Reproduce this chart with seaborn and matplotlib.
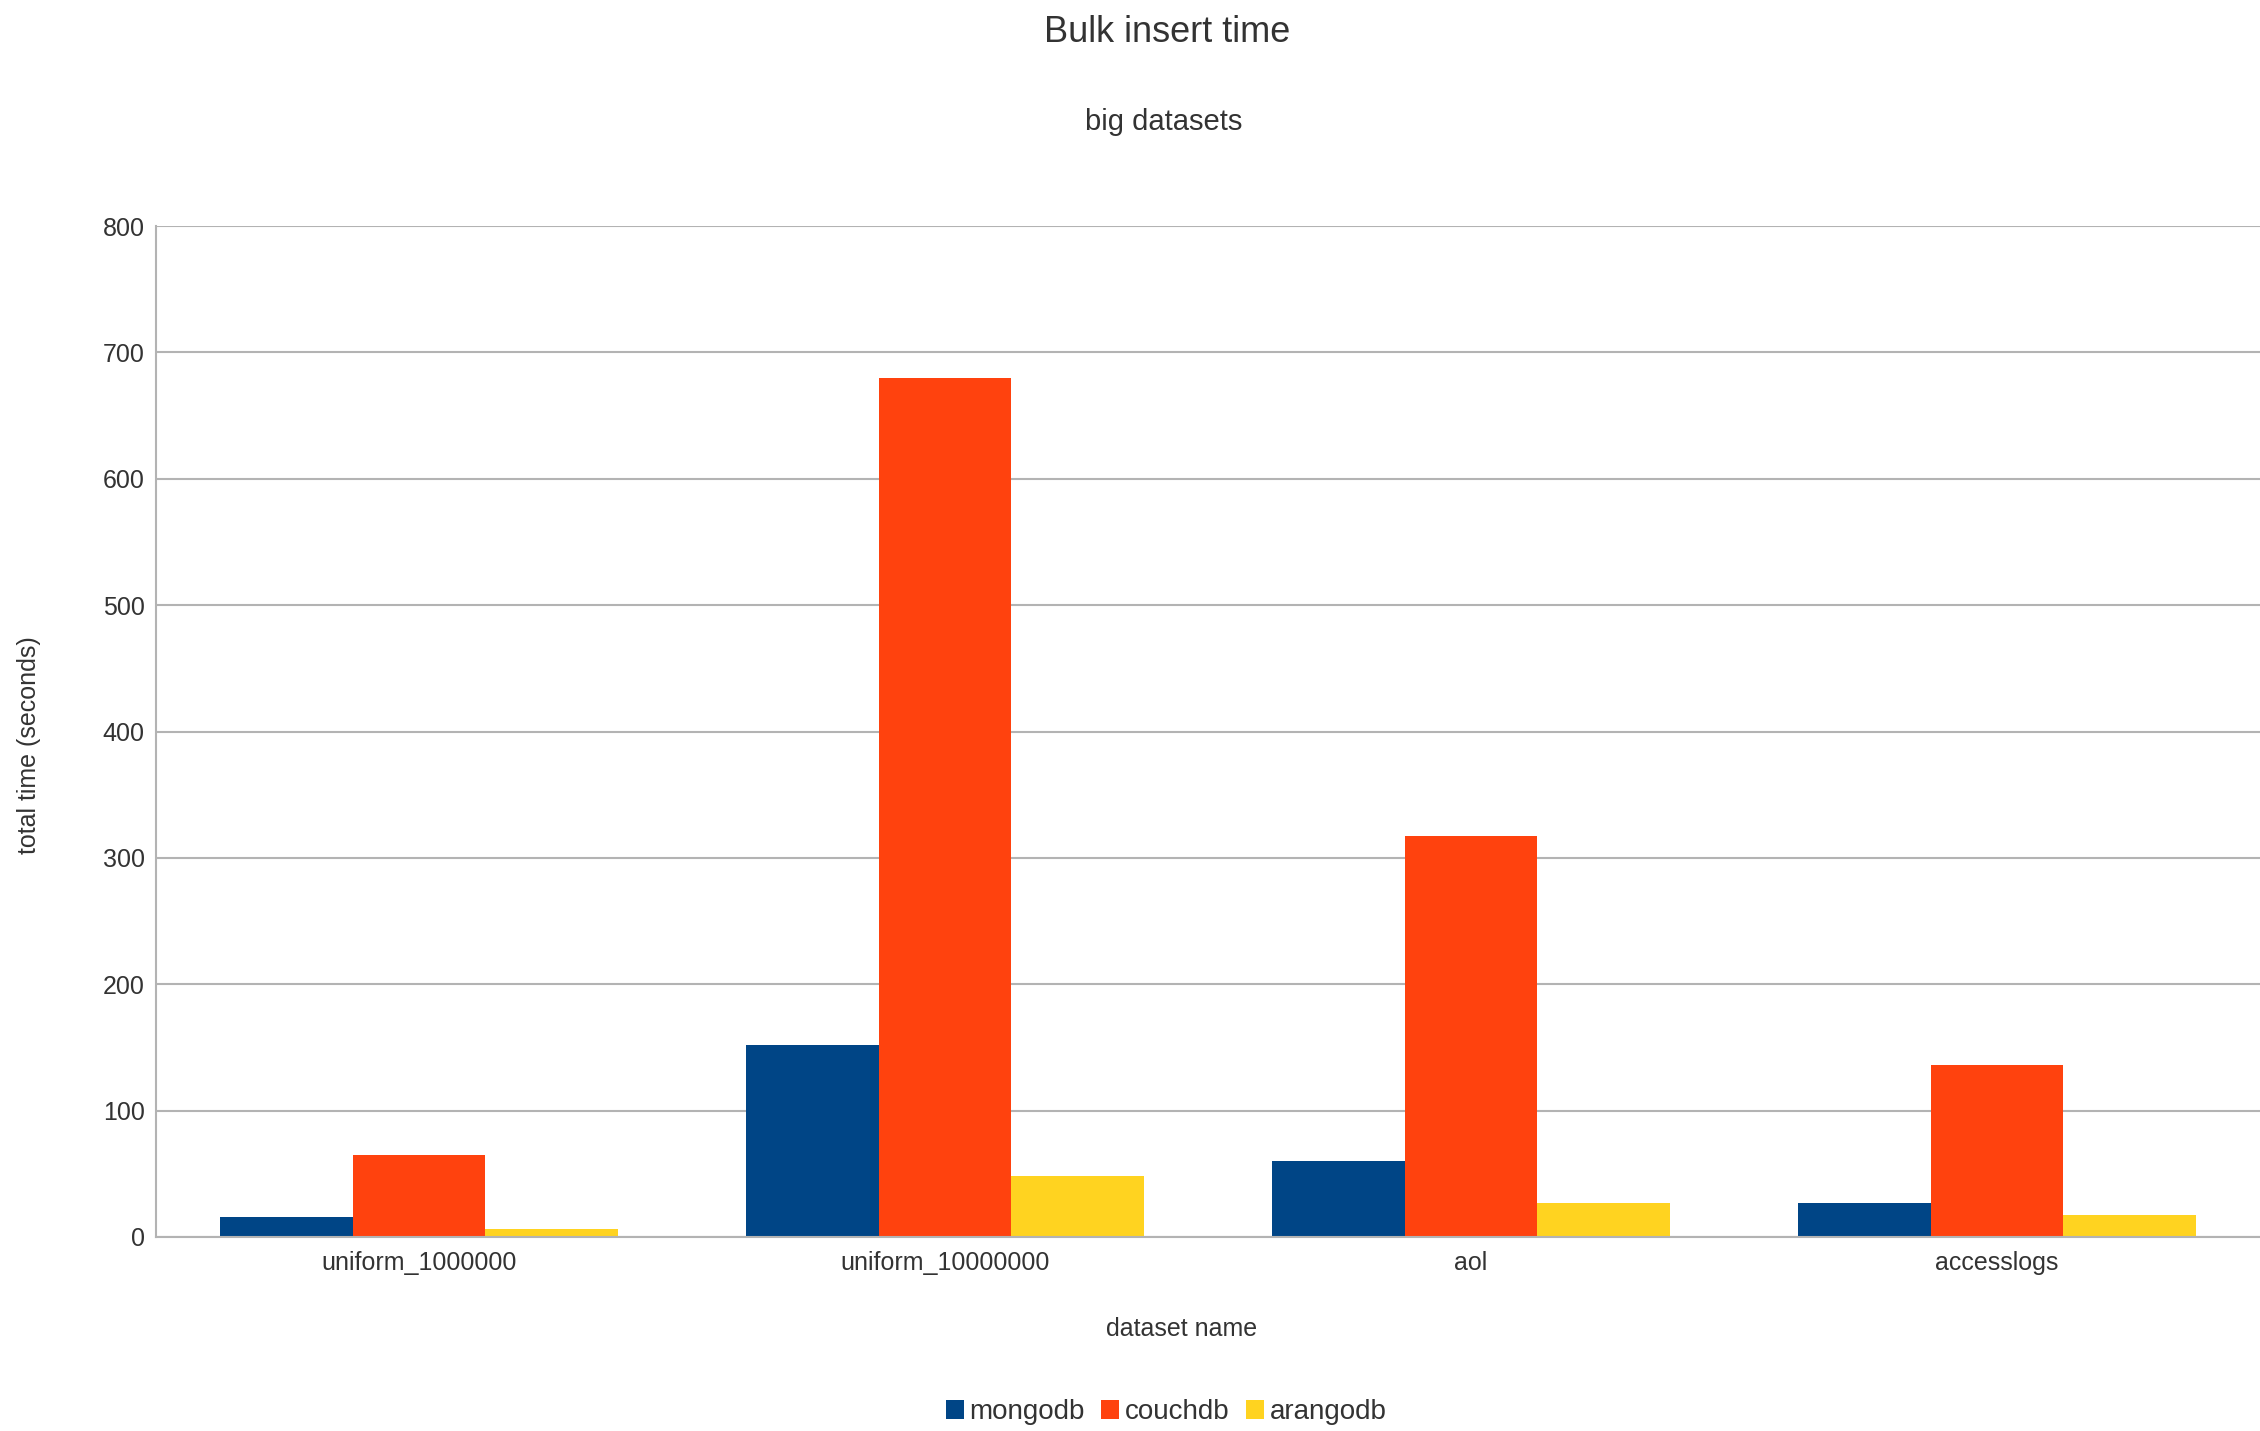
import matplotlib
matplotlib.use("Agg")
import matplotlib.pyplot as plt
import seaborn as sns
import pandas as pd
from matplotlib.patches import Patch

categories = ["uniform_1000000", "uniform_10000000", "aol", "accesslogs"]
mongodb = [16, 152, 60, 27]
couchdb = [65, 680, 317, 136]
arangodb = [6, 48, 27, 17]
series_names = ["mongodb", "couchdb", "arangodb"]
colors = ["#004586", "#ff420e", "#ffd320"]
y_ticks = [0, 100, 200, 300, 400, 500, 600, 700, 800]

rows = []
for name, vals in zip(series_names, [mongodb, couchdb, arangodb]):
    for c, v in zip(categories, vals):
        rows.append({"dataset": c, "db": name, "time": v})
df = pd.DataFrame(rows)

sns.set_theme(style="white")
plt.rcParams["font.family"] = ["Liberation Sans", "DejaVu Sans"]
text_color = "#333333"

fig = plt.figure(figsize=(22.6, 14.31), dpi=100)
ax = fig.add_axes([0.069, 0.1356, 0.931, 0.7064])

sns.barplot(data=df, x="dataset", y="time", hue="db", order=categories,
            hue_order=series_names, palette=colors, width=0.756,
            saturation=1, ax=ax, legend=False, linewidth=0, errorbar=None)

ax.set_xlim(-0.5, 3.5)
ax.set_ylim(0, 800)
ax.set_yticks(y_ticks)
ax.set_yticklabels([str(t) for t in y_ticks])
ax.yaxis.grid(True, color="#b3b3b3", linewidth=1.5)
ax.set_axisbelow(True)
for s in ["top", "right"]:
    ax.spines[s].set_visible(False)
for s in ["left", "bottom"]:
    ax.spines[s].set_color("#b3b3b3")
    ax.spines[s].set_linewidth(1.5)
ax.tick_params(axis="y", labelsize=18, colors=text_color, length=0, pad=8)
ax.tick_params(axis="x", labelsize=18, colors=text_color, length=0, pad=10)
ax.set_xlabel("")
ax.set_ylabel("")

fig.text(0.5166, 0.977, "Bulk insert time", ha="center", va="center",
         fontsize=26, color=text_color)
fig.text(0.515, 0.915, "big datasets", ha="center", va="center",
         fontsize=21, color=text_color)
fig.text(0.523, 0.071, "dataset name", ha="center", va="center",
         fontsize=18, color=text_color)
fig.text(0.0128, 0.479, "total time (seconds)", ha="center", va="center",
         fontsize=18, color=text_color, rotation=90)

handles = [Patch(facecolor=c, edgecolor="none", label=n) for n, c in zip(series_names, colors)]
fig.legend(handles=handles, loc="center", bbox_to_anchor=(0.516, 0.013), ncol=3,
           frameon=False, fontsize=20, handlelength=0.65, handleheight=0.65,
           handletextpad=0.2, columnspacing=0.6, labelcolor=text_color)

fig.savefig("out.png", dpi=100)
